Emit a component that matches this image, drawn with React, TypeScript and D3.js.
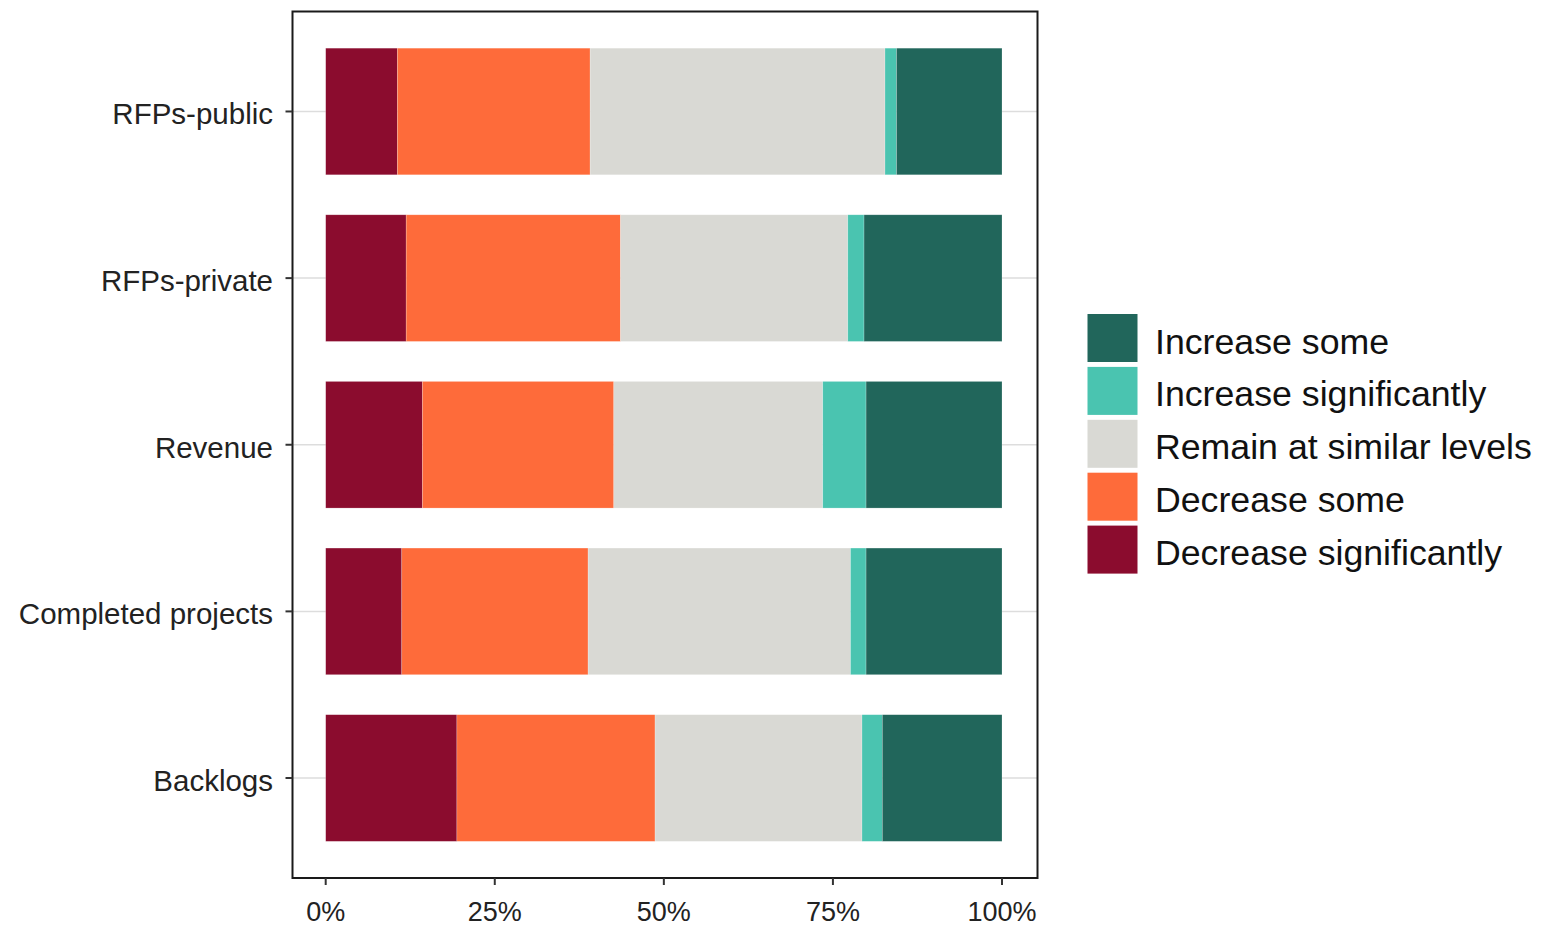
import React from "react";
import * as d3 from "d3";

const categories = ["RFPs-public", "RFPs-private", "Revenue", "Completed projects", "Backlogs"];
const seriesNames = [
  "Decrease significantly",
  "Decrease some",
  "Remain at similar levels",
  "Increase significantly",
  "Increase some",
];
const decreaseSignificantly = [10.6, 11.9, 14.3, 11.25, 19.4];
const decreaseSome = [28.5, 31.7, 28.3, 27.55, 29.3];
const remainSimilar = [43.6, 33.6, 30.9, 38.8, 30.6];
const increaseSignificantly = [1.7, 2.4, 6.4, 2.3, 3.0];
const increaseSome = [15.6, 20.4, 20.1, 20.1, 17.7];
const colors = ["#8B0C2E", "#FE6B3A", "#D9D9D4", "#4AC4B0", "#21665B"];
const xTicks = [0, 0.25, 0.5, 0.75, 1];
const legendOrder = [4, 3, 2, 1, 0];

const seriesValues = [decreaseSignificantly, decreaseSome, remainSimilar, increaseSignificantly, increaseSome];

export default function App() {
  const W = 1550, H = 930;
  const panel = { left: 292.5, right: 1037.5, top: 11.5, bottom: 878 };

  const x = d3.scaleLinear().domain([0, 1]).range([325.7, 1002]);
  const y = d3.scalePoint<string>().domain(categories).range([panel.top, panel.bottom]).padding(0.6);
  const barH = y.step() * 0.76;

  const rows = categories.map((c, i) => {
    const o: any = { cat: c };
    const tot = seriesValues.reduce((s, arr) => s + arr[i], 0);
    seriesNames.forEach((n, k) => (o[n] = seriesValues[k][i] / tot));
    return o;
  });
  const stack = d3.stack<any>().keys(seriesNames)(rows);

  const font = "Arial, 'Liberation Sans', sans-serif";

  return (
    <svg width={W} height={H} style={{ position: "absolute", left: 0, top: 0, background: "#fff" }}>
      <rect x={0} y={0} width={W} height={H} fill="#fff" />
      {categories.map((c) => (
        <line key={"g" + c} x1={panel.left} x2={panel.right} y1={y(c)} y2={y(c)} stroke="#DDDDDD" strokeWidth={1.5} />
      ))}
      {stack.map((s, k) => (
        <g key={s.key} fill={colors[k]}>
          {s.map((d, i) => (
            <rect
              key={i}
              x={x(d[0])}
              y={(y(categories[i]) as number) - barH / 2}
              width={x(d[1]) - x(d[0])}
              height={barH}
              stroke="#ffffff"
              strokeOpacity={0.35}
              strokeWidth={0.6}
            />
          ))}
        </g>
      ))}
      <rect x={panel.left} y={panel.top} width={panel.right - panel.left} height={panel.bottom - panel.top} fill="none" stroke="#1a1a1a" strokeWidth={2} />
      {categories.map((c) => (
        <g key={"y" + c}>
          <line x1={panel.left - 7} x2={panel.left} y1={y(c)} y2={y(c)} stroke="#333" strokeWidth={2} />
          <text x={273} y={(y(c) as number) + 13} textAnchor="end" fontFamily={font} fontSize={29.5} fill="#222">
            {c}
          </text>
        </g>
      ))}
      {xTicks.map((t) => (
        <g key={"x" + t}>
          <line x1={x(t)} x2={x(t)} y1={panel.bottom} y2={panel.bottom + 7} stroke="#333" strokeWidth={2} />
          <text x={x(t)} y={920.5} textAnchor="middle" fontFamily={font} fontSize={27} fill="#222">
            {d3.format(".0%")(t)}
          </text>
        </g>
      ))}
      {legendOrder.map((k, j) => {
        const top = 314 + j * 52.9;
        return (
          <g key={"l" + k}>
            <rect x={1087.5} y={top} width={50} height={48} fill={colors[k]} />
            <text x={1155} y={top + 24 + 15.5} fontFamily={font} fontSize={35.7} fill="#111">
              {seriesNames[k]}
            </text>
          </g>
        );
      })}
    </svg>
  );
}
